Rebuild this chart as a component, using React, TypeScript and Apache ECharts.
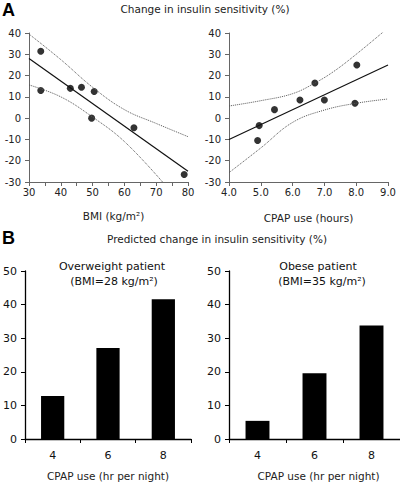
import React, { useEffect, useRef } from "react";
import * as echarts from "echarts";

// Panel A, left: BMI vs change in insulin sensitivity
const bmiX = [33.7, 33.7, 43, 46.5, 50.5, 49.7, 63, 78.8];
const bmiY = [31.4, 13, 14, 14.5, 12.5, 0, -4.5, -26.5];
const bmiFitX = [30, 80];
const bmiFitY = [28, -25];
const bmiUpperX = [30, 40, 50, 60, 70, 80];
const bmiUpperY = [39.5, 27.5, 14.5, 4, -2.5, -8.7];
const bmiLowerX = [30, 40, 50, 60, 72];
const bmiLowerY = [15.6, 10, 0.5, -11, -30];

// Panel A, right: CPAP use vs change in insulin sensitivity
const cpapX = [4.9, 4.95, 5.43, 6.23, 6.7, 7.0, 7.96, 8.02];
const cpapY = [-10.5, -3.5, 4, 8.5, 16.5, 8.5, 7, 25];
const cpapFitX = [4, 9];
const cpapFitY = [-10, 25];
const cpapUpperX = [4, 5, 6, 6.7, 7.3, 8, 8.85];
const cpapUpperY = [5.7, 8.2, 11.5, 16.5, 22, 30, 40.5];
const cpapLowerX = [4, 5, 6, 7, 8, 9];
const cpapLowerY = [-25.6, -14, -2, 3.8, 7, 9];

// Panel B: predicted change
const barCategories = ["4", "6", "8"];
const overweightValues = [12.8, 27.1, 41.6];
const obeseValues = [5.4, 19.6, 33.8];

const FONT = "DejaVu Sans";

const zip = (xs: number[], ys: number[]) => xs.map((x, i) => [x, ys[i]]);

export default function App() {
  const ref = useRef<HTMLDivElement>(null);
  useEffect(() => {
    document.body.style.margin = "0";
    const chart = echarts.init(ref.current!, null, { renderer: "svg" });
    const grayAxis = {
      axisLine: { show: true, onZero: false, lineStyle: { color: "#666", width: 1 } },
      axisTick: { show: true, length: 4, lineStyle: { color: "#666" } },
      splitLine: { show: false },
    };
    const blackAxis = {
      axisLine: { show: true, onZero: false, lineStyle: { color: "#000", width: 1.3 } },
      axisTick: { show: true, length: 4, lineStyle: { color: "#000" } },
      splitLine: { show: false },
    };
    const topLabel = { color: "#222", fontSize: 10, fontFamily: FONT };
    const nameLabel = { color: "#222", fontSize: 10.5, fontFamily: FONT };
    const botLabel = { color: "#111", fontSize: 11, fontFamily: FONT };
    const bandStyle = { color: "#555", width: 1, type: "dotted" as const };
    const fitStyle = { color: "#111", width: 1.2 };

    const option: any = {
      animation: false,
      grid: [
        { left: 29, top: 33, width: 159, height: 149 },
        { left: 229, top: 33, width: 159, height: 149 },
        { left: 21, top: 271, width: 170, height: 169 },
        { left: 229, top: 271, width: 171, height: 169 },
      ],
      xAxis: [
        {
          type: "value", gridIndex: 0, min: 30, max: 80, interval: 10,
          ...grayAxis,
          minorTick: { show: true, splitNumber: 2, length: 4, lineStyle: { color: "#666" } },
          axisLabel: { ...topLabel, margin: 5 },
          name: "BMI (kg/m²)", nameLocation: "middle", nameGap: 28,
          nameTextStyle: { ...nameLabel, padding: [0, 0, 0, 10] },
        },
        {
          type: "value", gridIndex: 1, min: 4, max: 9, interval: 1,
          ...grayAxis,
          axisLabel: { ...topLabel, margin: 5, formatter: (v: number) => v.toFixed(1) },
          name: "CPAP use (hours)", nameLocation: "middle", nameGap: 30,
          nameTextStyle: { ...nameLabel },
        },
        {
          type: "category", gridIndex: 2, data: barCategories,
          ...blackAxis,
          axisLabel: { ...botLabel, margin: 11 },
          name: "CPAP use (hr per night)", nameLocation: "middle", nameGap: 31,
          nameTextStyle: { ...nameLabel },
        },
        {
          type: "category", gridIndex: 3, data: barCategories,
          ...blackAxis,
          axisLabel: { ...botLabel, margin: 11 },
          name: "CPAP use (hr per night)", nameLocation: "middle", nameGap: 31,
          nameTextStyle: { ...nameLabel, padding: [0, 0, 0, 8] },
        },
      ],
      yAxis: [
        { type: "value", gridIndex: 0, min: -30, max: 40, interval: 10, ...grayAxis, axisLabel: { ...topLabel, margin: 8 } },
        { type: "value", gridIndex: 1, min: -30, max: 40, interval: 10, ...grayAxis, axisLabel: { ...topLabel, margin: 8 } },
        { type: "value", gridIndex: 2, min: 0, max: 50, interval: 10, ...blackAxis, axisLabel: { ...botLabel, margin: 8 } },
        { type: "value", gridIndex: 3, min: 0, max: 50, interval: 10, ...blackAxis, axisLabel: { ...botLabel, margin: 8 } },
      ],
      series: [
        { type: "line", xAxisIndex: 0, yAxisIndex: 0, data: zip(bmiUpperX, bmiUpperY), smooth: 0.4, symbol: "none", lineStyle: bandStyle },
        { type: "line", xAxisIndex: 0, yAxisIndex: 0, data: zip(bmiLowerX, bmiLowerY), smooth: 0.4, symbol: "none", lineStyle: bandStyle },
        { type: "line", xAxisIndex: 0, yAxisIndex: 0, data: zip(bmiFitX, bmiFitY), symbol: "none", lineStyle: fitStyle },
        { type: "scatter", xAxisIndex: 0, yAxisIndex: 0, data: zip(bmiX, bmiY), symbolSize: 7, itemStyle: { color: "#000" } },
        { type: "line", xAxisIndex: 1, yAxisIndex: 1, data: zip(cpapUpperX, cpapUpperY), smooth: 0.4, symbol: "none", lineStyle: bandStyle },
        { type: "line", xAxisIndex: 1, yAxisIndex: 1, data: zip(cpapLowerX, cpapLowerY), smooth: 0.4, symbol: "none", lineStyle: bandStyle },
        { type: "line", xAxisIndex: 1, yAxisIndex: 1, data: zip(cpapFitX, cpapFitY), symbol: "none", lineStyle: fitStyle },
        { type: "scatter", xAxisIndex: 1, yAxisIndex: 1, data: zip(cpapX, cpapY), symbolSize: 7, itemStyle: { color: "#000" } },
        { type: "bar", xAxisIndex: 2, yAxisIndex: 2, data: overweightValues, barWidth: "42%", itemStyle: { color: "#000" } },
        { type: "bar", xAxisIndex: 3, yAxisIndex: 3, data: obeseValues, barWidth: "42%", itemStyle: { color: "#000" } },
      ],
      graphic: [
        { type: "text", left: 2, top: 1, style: { text: "A", font: "bold 18px 'Liberation Sans'", fill: "#000" } },
        { type: "text", x: 205, y: 9, style: { text: "Change in insulin sensitivity (%)", font: `10.5px '${FONT}'`, fill: "#222", align: "center", verticalAlign: "middle" } },
        { type: "text", left: 2, top: 229, style: { text: "B", font: "bold 18px 'Liberation Sans'", fill: "#000" } },
        { type: "text", x: 217, y: 239, style: { text: "Predicted change in insulin sensitivity (%)", font: `10.5px '${FONT}'`, fill: "#222", align: "center", verticalAlign: "middle" } },
        { type: "text", x: 112, y: 266, style: { text: "Overweight patient", font: `11px '${FONT}'`, fill: "#111", align: "center", verticalAlign: "middle" } },
        { type: "text", x: 114, y: 281, style: { text: "(BMI=28 kg/m²)", font: `11px '${FONT}'`, fill: "#111", align: "center", verticalAlign: "middle" } },
        { type: "text", x: 318, y: 266, style: { text: "Obese patient", font: `11px '${FONT}'`, fill: "#111", align: "center", verticalAlign: "middle" } },
        { type: "text", x: 322, y: 281, style: { text: "(BMI=35 kg/m²)", font: `11px '${FONT}'`, fill: "#111", align: "center", verticalAlign: "middle" } },
      ],
    };
    chart.setOption(option);
    return () => chart.dispose();
  }, []);
  return <div ref={ref} style={{ width: 400, height: 482 }} />;
}
